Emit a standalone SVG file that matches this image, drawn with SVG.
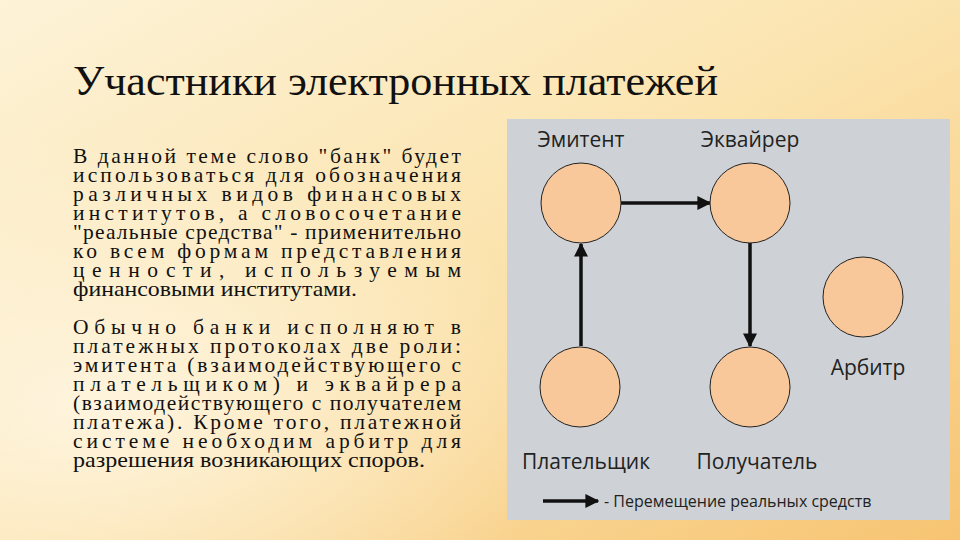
<svg xmlns="http://www.w3.org/2000/svg" width="960" height="540" viewBox="0 0 960 540">
<defs>
<linearGradient id="bg" x1="0" y1="0" x2="1" y2="1">
<stop offset="0" stop-color="#fdf3d8"/><stop offset="0.5" stop-color="#fbe3ad"/><stop offset="1" stop-color="#f7c472"/>
</linearGradient>
<radialGradient id="glow" cx="0.1" cy="0.75" r="0.5"><stop offset="0" stop-color="#fff8e8" stop-opacity="0.8"/><stop offset="1" stop-color="#fff8e8" stop-opacity="0"/></radialGradient>
<marker id="ah" viewBox="0 0 10 10" refX="9" refY="5" markerWidth="4" markerHeight="4" orient="auto"><path d="M0,0L10,5L0,10z" fill="#111"/></marker>
<style>
.t{font-family:"Liberation Serif",serif;font-size:21.5px;fill:#111}
.n{fill:#f8c89a;stroke:#222;stroke-width:1}
.l{font-family:"Open Sans","DejaVu Sans",sans-serif;font-size:21px;fill:#222;text-anchor:middle}
.c{stroke:#111;stroke-width:3.5;fill:none;marker-end:url(#ah)}
</style>
</defs>
<rect width="960" height="540" fill="url(#bg)"/>
<rect width="960" height="540" fill="url(#glow)"/>
<text x="73" y="95" font-family="Liberation Serif,serif" font-size="42" fill="#111" textLength="645" lengthAdjust="spacingAndGlyphs">Участники электронных платежей</text>
<g class="t">
<text x="73" y="163" textLength="388" lengthAdjust="spacing">В данной теме слово "банк" будет</text>
<text x="73" y="182" textLength="388" lengthAdjust="spacing">использоваться для обозначения</text>
<text x="73" y="201" textLength="388" lengthAdjust="spacing">различных видов финансовых</text>
<text x="73" y="220" textLength="388" lengthAdjust="spacing">институтов, а словосочетание</text>
<text x="73" y="239" textLength="388" lengthAdjust="spacing">"реальные средства" - применительно</text>
<text x="73" y="258" textLength="388" lengthAdjust="spacing">ко всем формам представления</text>
<text x="73" y="277" textLength="388" lengthAdjust="spacing">ценности, используемым</text>
<text x="73" y="296" textLength="284" lengthAdjust="spacingAndGlyphs">финансовыми институтами.</text>
<text x="73" y="334" textLength="388" lengthAdjust="spacing">Обычно банки исполняют в</text>
<text x="73" y="353" textLength="388" lengthAdjust="spacing">платежных протоколах две роли:</text>
<text x="73" y="372" textLength="388" lengthAdjust="spacing">эмитента (взаимодействующего с</text>
<text x="73" y="391" textLength="388" lengthAdjust="spacing">плательщиком) и эквайрера</text>
<text x="73" y="410" textLength="388" lengthAdjust="spacing">(взаимодействующего с получателем</text>
<text x="73" y="429" textLength="388" lengthAdjust="spacing">платежа). Кроме того, платежной</text>
<text x="73" y="448" textLength="388" lengthAdjust="spacing">системе необходим арбитр для</text>
<text x="73" y="467" textLength="352" lengthAdjust="spacingAndGlyphs">разрешения возникающих споров.</text>
</g>
<rect x="507" y="119" width="443" height="401" fill="#ced2d6"/>
<g id="connectors">
<line class="c" x1="621" y1="203" x2="710" y2="203"/>
<line class="c" x1="581" y1="346" x2="581" y2="244"/>
<line class="c" x1="750" y1="243" x2="750" y2="346"/>
<line class="c" x1="543" y1="501" x2="598" y2="501"/>
</g>
<g id="emitent"><circle class="n" cx="581" cy="203" r="40"/><text class="l" x="581" y="147">Эмитент</text></g>
<g id="acquirer"><circle class="n" cx="750" cy="203" r="40"/><text class="l" x="750" y="147">Эквайрер</text></g>
<g id="arbiter"><circle class="n" cx="863" cy="297" r="40"/><text class="l" x="868" y="375">Арбитр</text></g>
<g id="payer"><circle class="n" cx="580" cy="387" r="40"/><text class="l" x="586" y="469">Плательщик</text></g>
<g id="payee"><circle class="n" cx="750" cy="387" r="40"/><text class="l" x="757" y="469">Получатель</text></g>
<text x="604" y="507" font-family="Open Sans,DejaVu Sans,sans-serif" font-size="16" fill="#222">- Перемещение реальных средств</text>
</svg>
